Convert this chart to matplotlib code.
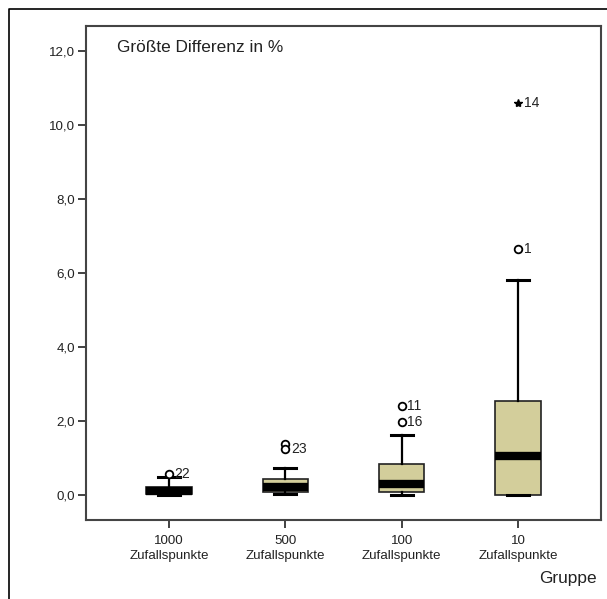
import matplotlib
matplotlib.use("Agg")
import matplotlib.pyplot as plt
from matplotlib.lines import Line2D

plt.rcParams['font.family'] = ['Liberation Sans', 'DejaVu Sans']

# ---- data ----
groups = ["1000\nZufallspunkte", "500\nZufallspunkte", "100\nZufallspunkte", "10\nZufallspunkte"]
q1 = [0.03, 0.07, 0.09, 0.0]
median = [0.10, 0.22, 0.29, 1.04]
q3 = [0.22, 0.42, 0.83, 2.54]
whisker_low = [0.0, 0.01, 0.0, 0.0]
whisker_high = [0.49, 0.72, 1.61, 5.81]
outlier_group = [0, 1, 1, 2, 2, 3]
outlier_value = [0.57, 1.38, 1.23, 2.41, 1.96, 6.64]
outlier_label = ["22", "", "23", "11", "16", "1"]
extreme_group = [3]
extreme_value = [10.59]
extreme_label = ["14"]
yticks = [0, 2, 4, 6, 8, 10, 12]
ytick_labels = ["0,0", "2,0", "4,0", "6,0", "8,0", "10,0", "12,0"]

W, H = 607, 599
fig = plt.figure(figsize=(W / 100, H / 100), dpi=100)
ax = fig.add_axes([86 / W, 1 - 520 / H, (601 - 86) / W, (520 - 26) / H])

stats = []
for i in range(len(groups)):
    stats.append(dict(q1=q1[i], med=median[i], q3=q3[i],
                      whislo=whisker_low[i], whishi=whisker_high[i], fliers=[]))

box_color = "#D3CE9B"
ax.bxp(stats, positions=range(len(groups)), widths=0.39, patch_artist=True,
       showfliers=False,
       boxprops=dict(facecolor=box_color, edgecolor="#222222", linewidth=1.2),
       medianprops=dict(color="black", linewidth=6, solid_capstyle="butt"),
       whiskerprops=dict(color="black", linewidth=1.6),
       capprops=dict(color="black", linewidth=2.2),
       capwidths=0.19)

ax.plot(outlier_group, outlier_value, linestyle="none", marker="o", markersize=5.5,
        markerfacecolor="white", markeredgecolor="black", markeredgewidth=1.3)
ax.plot(extreme_group, extreme_value, linestyle="none", marker="*", markersize=6,
        color="black")
for g, v, lab in zip(outlier_group, outlier_value, outlier_label):
    if lab:
        ax.annotate(lab, (g, v), xytext=(4, 0), textcoords="offset points",
                    fontsize=10, va="center", ha="left", color="#222222")
for g, v, lab in zip(extreme_group, extreme_value, extreme_label):
    ax.annotate(lab, (g, v), xytext=(4, 0), textcoords="offset points",
                fontsize=10, va="center", ha="left", color="#222222")

ax.set_xlim(-0.713, 3.713)
ax.set_ylim(-0.68, 12.68)
ax.set_yticks(yticks)
ax.set_yticklabels(ytick_labels)
ax.set_xticks(range(len(groups)))
ax.set_xticklabels(groups, linespacing=1.25)
ax.tick_params(axis="both", direction="out", length=6, width=1.3, colors="#333333",
               labelsize=9.6, labelcolor="#222222")
ax.tick_params(axis="x", pad=5)
ax.tick_params(axis="y", pad=2)
for s in ax.spines.values():
    s.set_linewidth(1.5)
    s.set_color("#444444")

fig.text(117 / W, 1 - 48 / H, "Größte Differenz in %", fontsize=12.4,
         va="center", ha="left", color="#222222")
fig.text(597 / W, 1 - 578 / H, "Gruppe", fontsize=12.4, ha="right", va="center",
         color="#222222")

# outer frame
fig.add_artist(Line2D([9 / W, 9 / W, 1.0], [0.0, 1 - 9 / H, 1 - 9 / H],
                      transform=fig.transFigure, color="black", linewidth=1.2))

fig.savefig("out.png", dpi=100)
